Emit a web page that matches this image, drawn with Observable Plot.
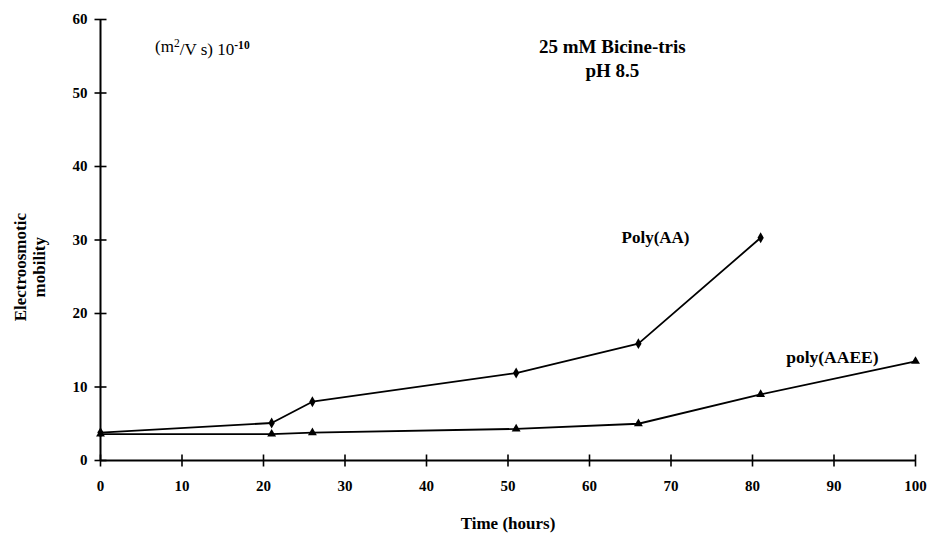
<!DOCTYPE html>
<html>
<head>
<meta charset="utf-8">
<script src="https://cdn.jsdelivr.net/npm/d3@7"></script>
<script src="https://cdn.jsdelivr.net/npm/@observablehq/plot@0.6"></script>
<style>
  html, body { margin: 0; padding: 0; background: #fff; }
  svg { font-family: "Liberation Serif", "Times New Roman", serif; }
</style>
</head>
<body>
<div id="chart"></div>
<script>
const hoursAA = [0, 21, 26, 51, 66, 81];
const mobilityAA = [3.8, 5.1, 8.0, 11.9, 15.9, 30.3];
const hoursAAEE = [0, 21, 26, 51, 66, 81, 100];
const mobilityAAEE = [3.6, 3.6, 3.8, 4.3, 5.0, 9.0, 13.5];
const xTicks = [0, 10, 20, 30, 40, 50, 60, 70, 80, 90, 100];
const yTicks = [0, 10, 20, 30, 40, 50, 60];
const unitLabel = "(m2/V s) 10-10";

const aa = hoursAA.map((h, i) => ({hours: h, mobility: mobilityAA[i]}));
const aaee = hoursAAEE.map((h, i) => ({hours: h, mobility: mobilityAAEE[i]}));

// symbols for tick marks that cross the axis
const vTick = {draw(ctx, size) { const h = Math.sqrt(size / Math.PI); ctx.moveTo(0, -h); ctx.lineTo(0, h); }};
const hTick = {draw(ctx, size) { const h = Math.sqrt(size / Math.PI); ctx.moveTo(-h, 0); ctx.lineTo(h, 0); }};

const chart = Plot.plot({
  width: 931,
  height: 543,
  marginLeft: 100,
  marginRight: 16,
  marginTop: 19,
  marginBottom: 83,
  x: {domain: [0, 100], label: null},
  y: {domain: [0, 60], label: null},
  style: {fontFamily: "Liberation Serif, Times New Roman, serif", background: "#fff"},
  marks: [
    // axis lines
    Plot.ruleX([0], {stroke: "#000", strokeWidth: 2}),
    Plot.ruleY([0], {stroke: "#000", strokeWidth: 2}),
    // tick marks crossing the axes
    Plot.dot(xTicks, {x: d => d, y: () => 0, symbol: vTick, r: 6, stroke: "#000", strokeWidth: 1.6, fill: "none"}),
    Plot.dot(yTicks, {x: () => 0, y: d => d, symbol: hTick, r: 6, stroke: "#000", strokeWidth: 1.6, fill: "none"}),
    // tick labels
    Plot.axisX(xTicks, {tickSize: 0, tickPadding: 20, fontSize: 15, fontWeight: "bold", fill: "#000", label: null}),
    Plot.axisY(yTicks, {tickSize: 0, tickPadding: 13, fontSize: 15, fontWeight: "bold", fill: "#000", label: null}),
    // series
    Plot.line(aa, {x: "hours", y: "mobility", stroke: "#000", strokeWidth: 1.8}),
    Plot.dot(aa, {x: "hours", y: "mobility", symbol: "diamond", r: 3.3, fill: "#000"}),
    Plot.line(aaee, {x: "hours", y: "mobility", stroke: "#000", strokeWidth: 1.8}),
    Plot.dot(aaee, {x: "hours", y: "mobility", symbol: "triangle", r: 3.3, fill: "#000"}),
    // annotations
    Plot.text(["25 mM Bicine-tris\npH 8.5"], {x: 62.8, y: 54.8, fontSize: 19, fontWeight: "bold", lineHeight: 1.26, fill: "#000"}),
    Plot.text([unitLabel], {x: 6.7, y: 56.3, textAnchor: "start", fontSize: 17, fill: "#000"}),
    Plot.text(["Poly(AA)"], {x: 68.1, y: 30.3, fontSize: 17, fontWeight: "bold", fill: "#000"}),
    Plot.text(["poly(AAEE)"], {x: 89.8, y: 14.0, fontSize: 17.5, fontWeight: "bold", fill: "#000"}),
    // axis titles
    Plot.text(["Time (hours)"], {frameAnchor: "bottom", dy: 68, fontSize: 17, fontWeight: "bold", fill: "#000"}),
    Plot.text(["Electroosmotic\nmobility"], {x: -8.7, y: 26.3, rotate: -90, fontSize: 17, fontWeight: "bold", lineHeight: 1.1, fill: "#000"})
  ]
});

// superscripts in the unit label
d3.select(chart).selectAll("text").each(function () {
  if (this.textContent === unitLabel) {
    const t = d3.select(this);
    t.text(null);
    t.append("tspan").text("(m");
    t.append("tspan").attr("dy", "-0.45em").attr("font-size", "0.68em").text("2");
    t.append("tspan").attr("dy", "0.45em").text("/V s) 10");
    t.append("tspan").attr("dy", "-0.45em").attr("font-size", "0.68em").attr("font-weight", "bold").text("-10");
  }
});

document.getElementById("chart").appendChild(chart);
</script>
</body>
</html>
